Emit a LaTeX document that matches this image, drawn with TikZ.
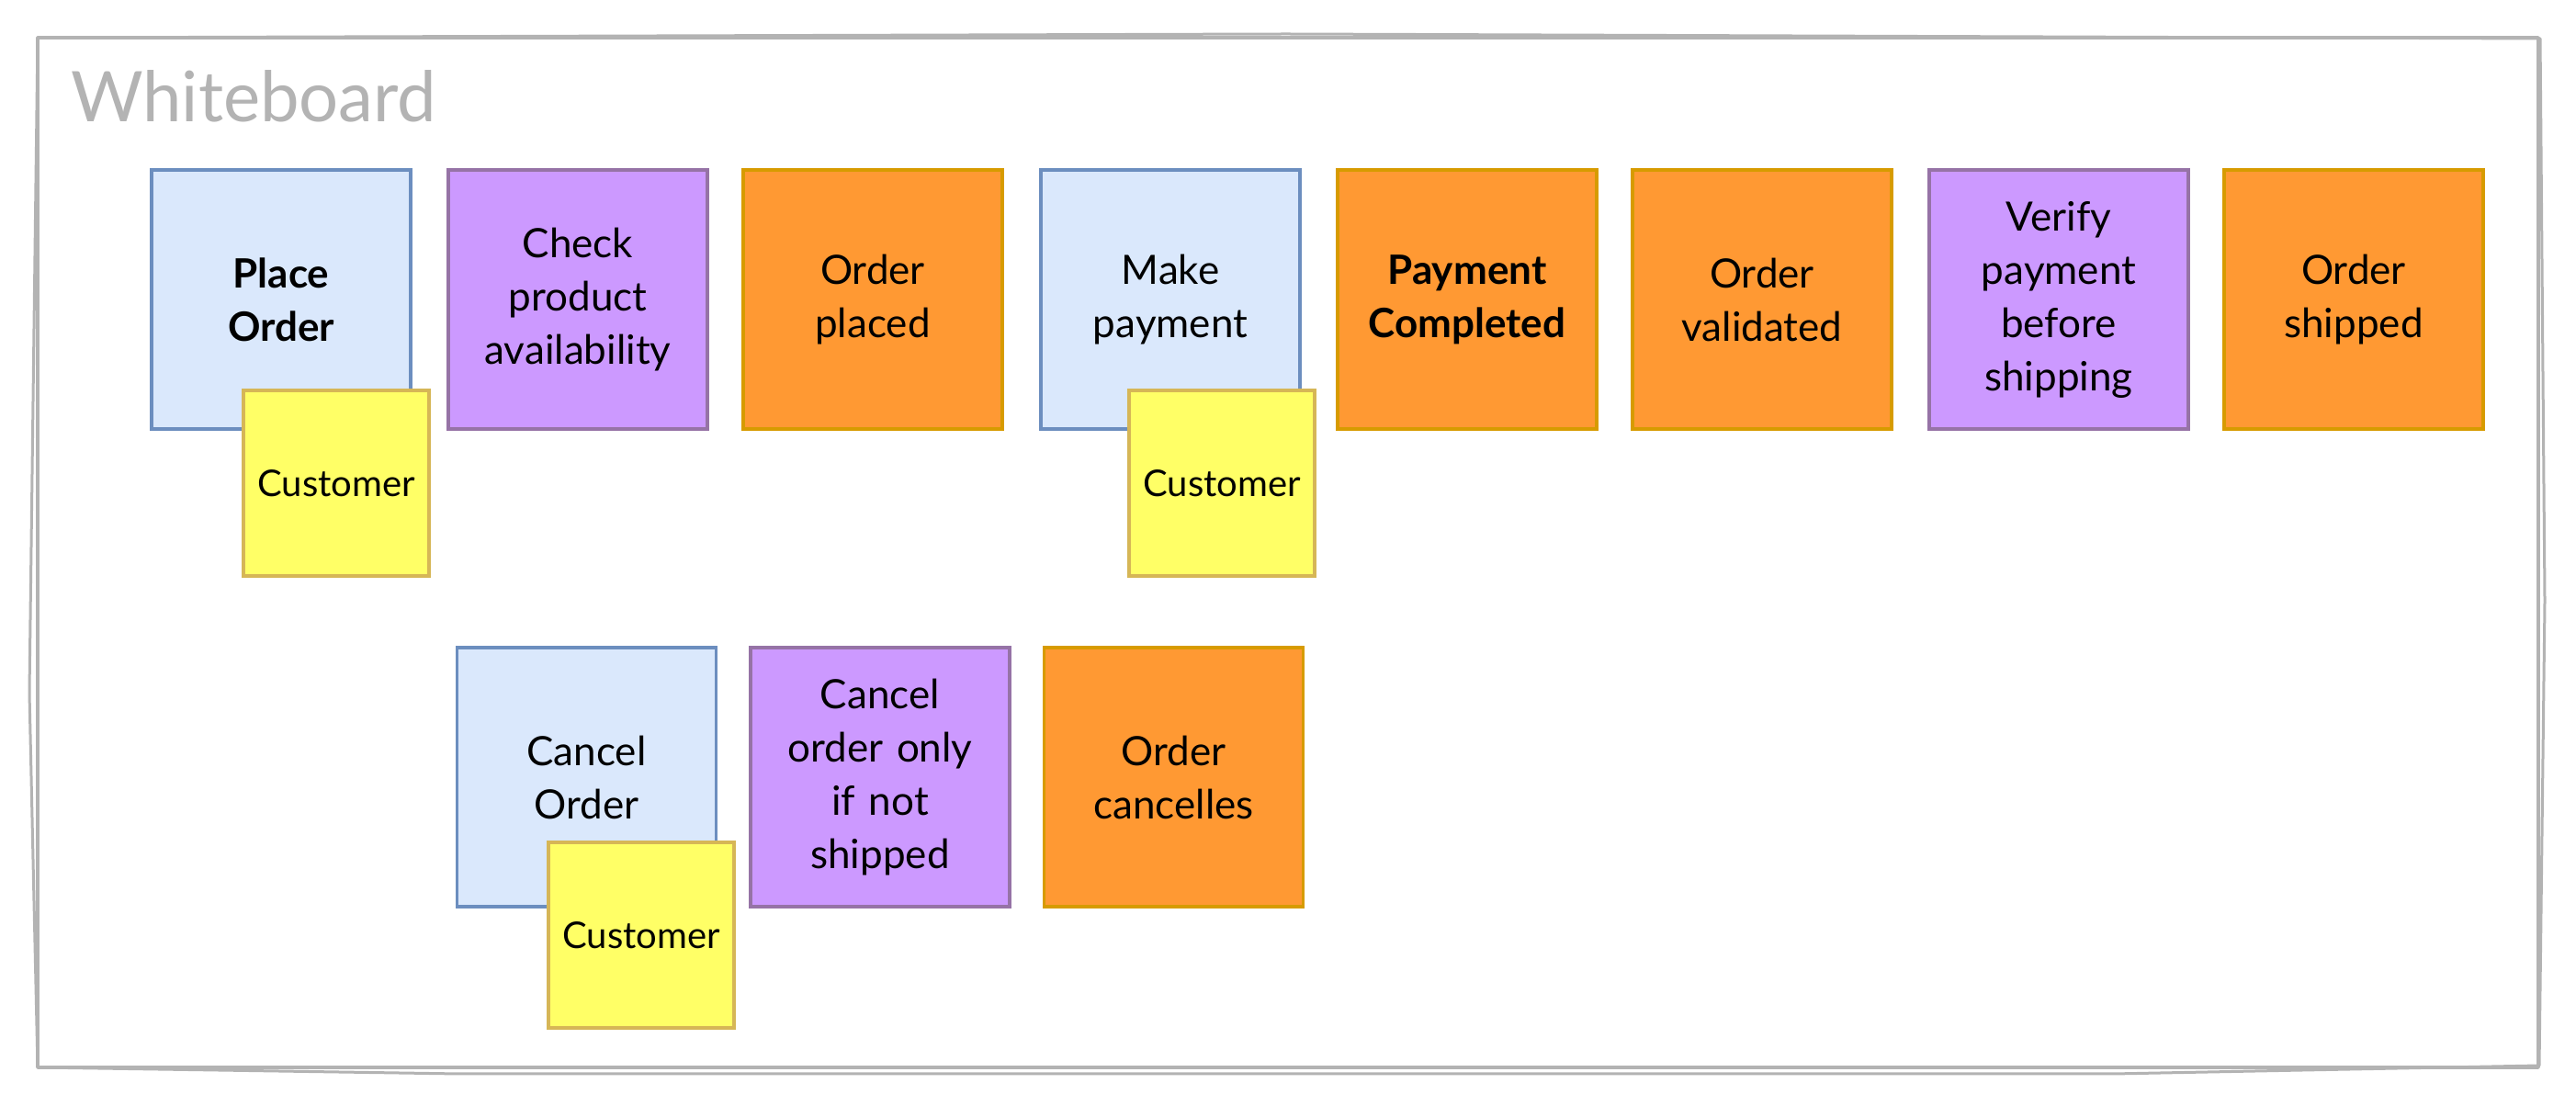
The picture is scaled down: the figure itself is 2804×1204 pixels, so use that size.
\documentclass[tikz,border=0pt]{standalone}
\usepackage{fontspec}
\setmainfont{Lato}
\begin{document}
\begin{tikzpicture}[x=1pt,y=1pt,
  note/.style={rectangle,line width= 3.5pt,inner sep=0pt,outer sep=0pt,
    minimum width=282pt,minimum height=282pt,text width=266pt,align=center,
    text=black,font=\fontsize{44}{58}\selectfont},
  command/.style={note,draw=cmdDraw,fill=cmdFill},
  policy/.style={note,draw=polDraw,fill=polFill},
  event/.style={note,draw=evtDraw,fill=evtFill},
  actor/.style={note,draw=actDraw,fill=actFill,minimum width=202pt,
    minimum height=202pt,text width=196pt,font=\fontsize{40}{48}\selectfont}]
\definecolor{fillColor}{RGB}{255,255,255}
\path[use as bounding box,fill=fillColor] (0,0) rectangle (2804,1204);
\begin{scope}
\definecolor{drawColor}{RGB}{179,179,179}

\path[draw=drawColor,line width= 3.5pt,line join=round] ( 41.00, 42.00) --
	(2763.00, 42.00) -- (2763.00,1163.00) -- ( 41.00,1163.00) -- cycle;

\path[draw=drawColor,line width= 3.0pt,line join=round] ( 41.00,1163.00) --
	(1400.00,1167.00) -- (2765.00,1162.00) -- (2770.00,550.00) --
	(2764.00, 44.00) -- (2300.00, 35.00) -- (500.00, 35.00) --
	( 41.00, 42.00) -- ( 32.00,450.00) -- cycle;

\node[text=drawColor,anchor=base west,inner sep=0pt, outer sep=0pt, font=\fontsize{76}{90}\selectfont] (title) at ( 77.00,1071.00) {Whiteboard};
\end{scope}
\begin{scope}
\definecolor{cmdFill}{RGB}{218,232,252}
\definecolor{cmdDraw}{RGB}{108,142,191}
\definecolor{polFill}{RGB}{204,153,255}
\definecolor{polDraw}{RGB}{150,115,166}
\definecolor{evtFill}{RGB}{255,153,51}
\definecolor{evtDraw}{RGB}{215,155,0}
\definecolor{actFill}{RGB}{255,255,102}
\definecolor{actDraw}{RGB}{214,182,86}

\node[command,font=\fontsize{44}{58}\selectfont\bfseries] (placeOrder) at ( 306.00, 878.00) {Place\\Order};

\node[policy] (checkAvail) at ( 629.00, 878.00) {Check\\product\\availability};

\node[event] (orderPlaced) at ( 950.00, 878.00) {Order\\placed};

\node[command] (makePayment) at (1274.00, 878.00) {Make\\payment};

\node[event,font=\fontsize{44}{58}\selectfont\bfseries] (paymentDone) at (1597.00, 878.00) {Payment\\Completed};

\node[event] (orderValid) at (1918.00, 878.00) {Order\\validated};

\node[policy] (verifyPay) at (2241.00, 878.00) {Verify\\payment\\before\\shipping};

\node[event] (orderShipped) at (2562.00, 878.00) {Order\\shipped};

\node[command] (cancelOrder) at ( 638.50, 358.00) {Cancel\\Order};

\node[policy] (cancelRule) at ( 958.00, 358.00) {Cancel\\order only\\if not\\shipped};

\node[event] (orderCancel) at (1277.50, 358.00) {Order\\cancelles};

\node[actor] (placeActor) at ( 366.00, 678.00) {Customer};

\node[actor] (payActor) at (1330.00, 678.00) {Customer};

\node[actor] (cancelActor) at ( 698.00, 186.00) {Customer};
\end{scope}
\end{tikzpicture}
\end{document}
